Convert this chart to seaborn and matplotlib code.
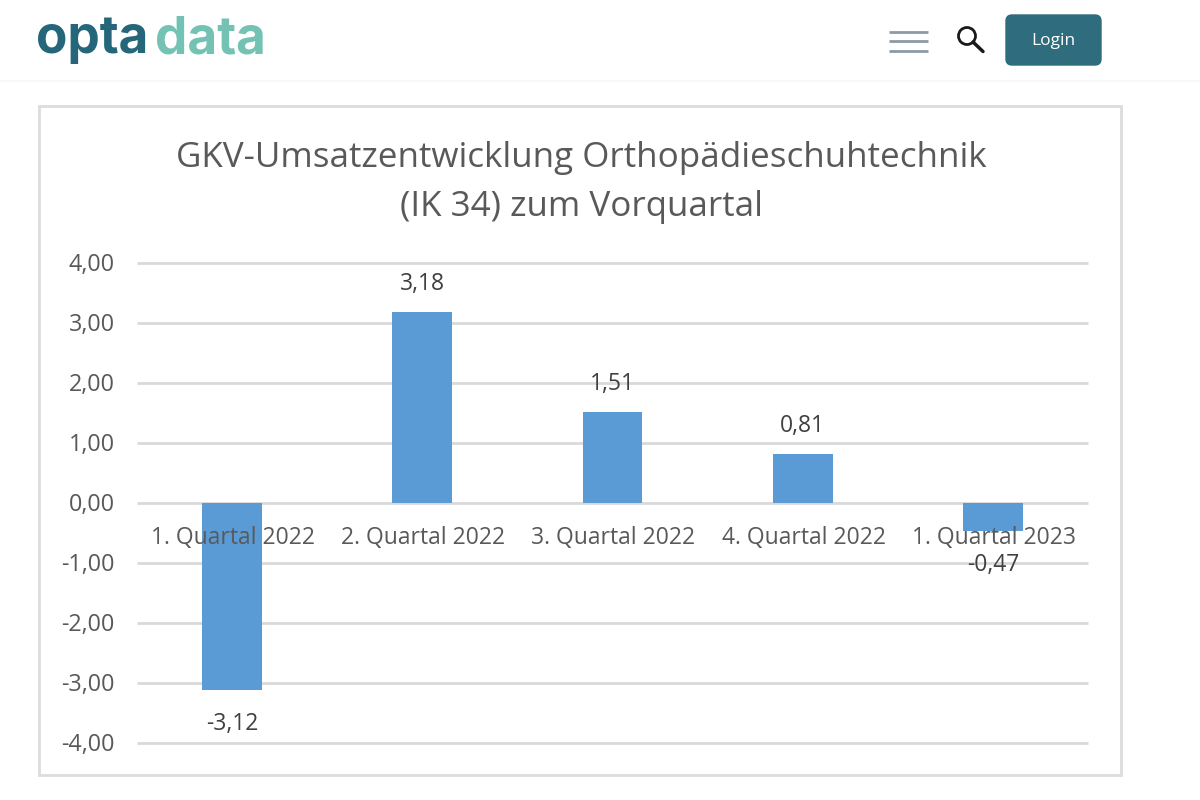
import matplotlib
matplotlib.use("Agg")
import matplotlib.pyplot as plt
import seaborn as sns
import pandas as pd
from matplotlib.patches import Rectangle, FancyBboxPatch, Ellipse
from matplotlib.lines import Line2D

quarters = ["1. Quartal 2022", "2. Quartal 2022", "3. Quartal 2022", "4. Quartal 2022", "1. Quartal 2023"]
values = [-3.12, 3.18, 1.51, 0.81, -0.47]
ticks = [4, 3, 2, 1, 0, -1, -2, -3, -4]

W, H = 1200, 800
sns.set_theme(style="white")
plt.rcParams['font.family'] = ['Open Sans', 'DejaVu Sans']
fig = plt.figure(figsize=(12, 8), dpi=100, facecolor="white")

def fx(x): return x / W
def fy(y): return 1 - y / H

fig.add_artist(Rectangle((0, fy(82)), 1, 2 / H, transform=fig.transFigure, fc="#f8f8f8", ec="none"))
fig.add_artist(Rectangle((fx(39.5), fy(775)), 1081 / W, 669 / H, transform=fig.transFigure, fc="white", ec="#dcdcdc", lw=2))

fig.text(fx(36), fy(53), "opta", fontsize=37, fontweight="bold", color="#26667a", family="Inter", va="baseline", ha="left")
fig.text(fx(155), fy(53), "data", fontsize=37, fontweight="bold", color="#74c2b4", family="Inter", va="baseline", ha="left")

for y in (32, 41, 51):
    fig.add_artist(Line2D([fx(889), fx(928)], [fy(y), fy(y)], color="#8c9aa6", lw=2, solid_capstyle="butt"))
fig.add_artist(Ellipse((fx(967), fy(36)), 17 / W, 17 / H, transform=fig.transFigure, fc="none", ec="#1a1a1a", lw=2))
fig.add_artist(Line2D([fx(973), fx(983)], [fy(42), fy(51.5)], color="#1a1a1a", lw=2.5))
fig.add_artist(FancyBboxPatch((fx(1006), fy(65)), 95 / W, 50 / H, boxstyle="round,pad=0,rounding_size=0.005",
                              transform=fig.transFigure, fc="#2e6c7e", ec="#2e6c7e", lw=1, mutation_aspect=1.5))
fig.text(fx(1053), fy(41), "Login", fontsize=12.5, color="white", ha="center", va="center", family="Open Sans")

ax = fig.add_axes([fx(137), fy(742.5), (1088 - 137) / W, 480 / H])
ax.set_zorder(5)
ax.patch.set_alpha(0)
df = pd.DataFrame({"q": quarters, "v": values})
sns.barplot(data=df, x="q", y="v", color="#5b9bd5", saturation=1, width=0.315, linewidth=0, ax=ax, zorder=3)
ax.set_ylim(-4, 4)
ax.set_xlim(-0.5, 4.5)
ax.set_yticks(ticks)
ax.set_yticklabels([f"{t:.2f}".replace(".", ",") for t in ticks], fontsize=16.8, color="#595959")
ax.set_xlabel("")
ax.set_ylabel("")
ax.grid(axis="y", color="#d9d9d9", lw=2, zorder=0)
for line in ax.get_ygridlines():
    line.set_clip_on(False)
    line.set_solid_capstyle("butt")
ax.set_axisbelow(True)
for s in ax.spines.values():
    s.set_visible(False)
ax.tick_params(axis="y", length=0, pad=16)
ax.tick_params(axis="x", length=0)
ax.set_xticks(range(5))
ax.set_xticklabels([])

for i, (q, v) in enumerate(zip(quarters, values)):
    ax.annotate(q, (i, 0), xytext=(1, -35), textcoords="offset pixels", ha="center", va="center",
                fontsize=16.5, color="#595959", zorder=5)
    off = 28 if v >= 0 else -34
    ax.annotate(f"{v:.2f}".replace(".", ","), (i, v), xytext=(0, off), textcoords="offset pixels",
                ha="center", va="center", fontsize=16.5, color="#404040", zorder=5)

fig.text(fx(581), fy(158), "GKV-Umsatzentwicklung Orthopädieschuhtechnik", fontsize=25.2, color="#595959", ha="center", va="center")
fig.text(fx(581), fy(207), "(IK 34) zum Vorquartal", fontsize=25.2, color="#595959", ha="center", va="center")

fig.savefig("out.png", dpi=100)
